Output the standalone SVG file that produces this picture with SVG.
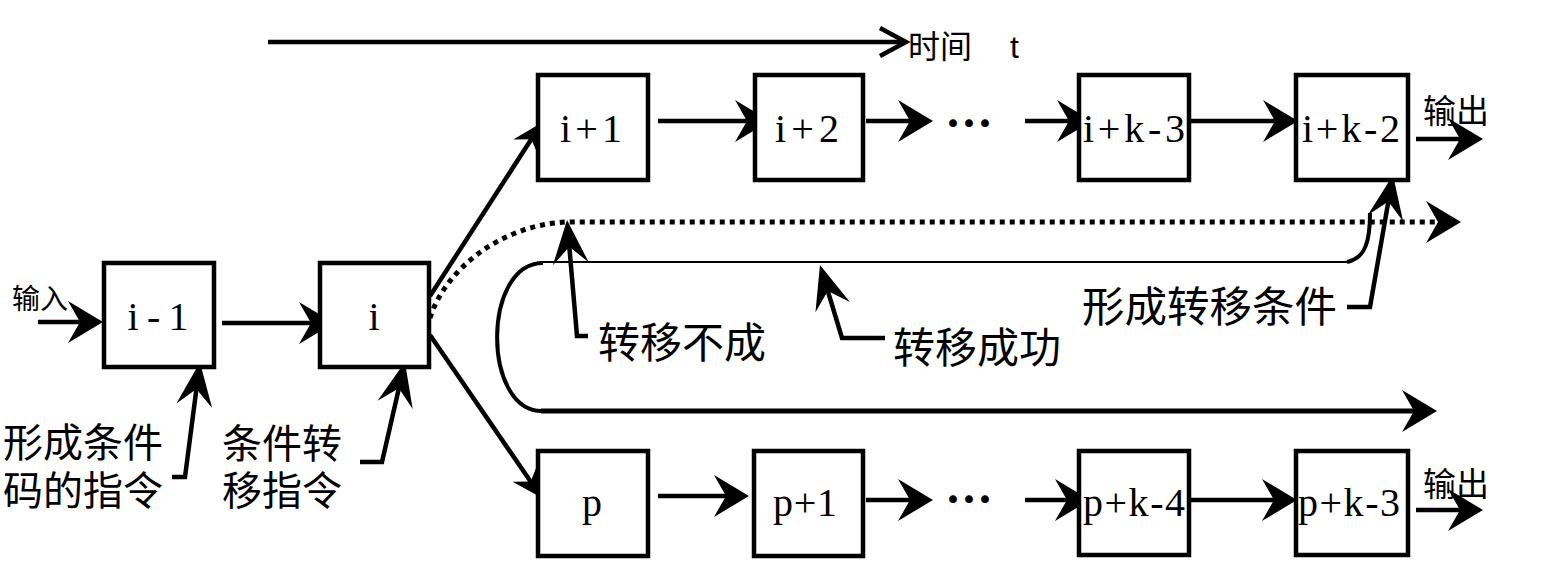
<svg xmlns="http://www.w3.org/2000/svg" width="1554" height="584" viewBox="0 0 1554 584">
<style>
.box{fill:#fff;stroke:#000;stroke-width:4.5}
.lbl{font-family:"Liberation Serif",serif;font-size:40px;fill:#000;text-anchor:middle}
.cn{font-family:"Noto Sans CJK SC",sans-serif;fill:#000}
.ln{fill:none;stroke:#000;stroke-width:4.5}
.thin{fill:none;stroke:#000;stroke-width:2}
.dot{fill:none;stroke:#000;stroke-width:5;stroke-dasharray:5 5}
.ell{font-family:"Noto Sans CJK SC",sans-serif;font-size:48px;font-weight:bold;fill:#000;text-anchor:middle}
</style>
<defs>
<marker id="ah" viewBox="-50 -25 55 50" markerWidth="55" markerHeight="50" refX="-15" refY="0" orient="auto" markerUnits="userSpaceOnUse">
<path d="M0,0 L-35,-21 L-23,0 L-35,21 Z" fill="#000"/>
</marker>
<marker id="ahs" viewBox="-50 -25 55 50" markerWidth="55" markerHeight="50" refX="-15" refY="0" orient="auto" markerUnits="userSpaceOnUse">
<path d="M0,0 L-30,-15 L-20,0 L-30,15 Z" fill="#000"/>
</marker>
<marker id="ahu" viewBox="-50 -25 55 50" markerWidth="55" markerHeight="50" refX="-15" refY="0" orient="auto" markerUnits="userSpaceOnUse">
<path d="M0,0 L-44,-18 L-27,0 L-44,18 Z" fill="#000"/>
</marker>
</defs>
<rect width="1554" height="584" fill="#fff"/>

<g id="connectors">
<line class="ln" x1="268" y1="42" x2="904" y2="42"/>
<polyline class="ln" points="880,28 906,42 880,56"/>
<line class="ln" x1="38" y1="322" x2="88" y2="322" marker-end="url(#ah)"/>
<line class="ln" x1="222" y1="323" x2="319" y2="323" marker-end="url(#ah)"/>
<line class="ln" x1="430" y1="296" x2="534" y2="135" marker-end="url(#ahs)"/>
<line class="ln" x1="430" y1="335" x2="533.5" y2="485.7" marker-end="url(#ahs)"/>
<line class="ln" x1="658" y1="121" x2="755" y2="121" marker-end="url(#ah)"/>
<line class="ln" x1="866" y1="121" x2="918" y2="121" marker-end="url(#ah)"/>
<line class="ln" x1="1025" y1="121" x2="1077" y2="121" marker-end="url(#ah)"/>
<line class="ln" x1="1190" y1="121" x2="1283" y2="121" marker-end="url(#ah)"/>
<line class="ln" x1="1416" y1="139" x2="1468" y2="139" marker-end="url(#ah)"/>
<line class="ln" x1="658" y1="496" x2="734" y2="496" marker-end="url(#ah)"/>
<line class="ln" x1="866" y1="500" x2="918" y2="500" marker-end="url(#ah)"/>
<line class="ln" x1="1025" y1="500" x2="1075" y2="500" marker-end="url(#ah)"/>
<line class="ln" x1="1190" y1="500" x2="1282" y2="500" marker-end="url(#ah)"/>
<line class="ln" x1="1416" y1="510" x2="1468" y2="510" marker-end="url(#ah)"/>
<path class="dot" d="M430,318 C445,270 500,225 567,222 L1446,222" marker-end="url(#ah)"/>
<path class="ln" d="M1370,213 C1370,240 1366,258 1347,262" style="stroke-width:4"/>
<line class="thin" x1="543" y1="262" x2="1347" y2="262"/>
<path class="ln" d="M543,263 C482,263 482,411 542,411" style="stroke-width:4"/>
<line class="ln" x1="541" y1="411" x2="1422" y2="411" style="stroke-width:5" marker-end="url(#ah)"/>
<polyline class="ln" points="172,477 185,477 198,377" marker-end="url(#ahu)"/>
<polyline class="ln" points="360,462 382,462 401.6,376.6" marker-end="url(#ahu)"/>
<polyline class="ln" points="588,336 577,336 568.3,234.9" marker-end="url(#ahu)"/>
<polyline class="ln" points="885,338 842,338 824.3,279.4" marker-end="url(#ahu)"/>
<polyline class="ln" points="1347,307 1370,307 1390.4,189.8" marker-end="url(#ahu)"/>
</g>

<g id="n-im1"><rect class="box" x="104" y="263" width="110" height="104"/><text class="lbl" x="158" y="330" textLength="61" lengthAdjust="spacing">i-1</text></g>
<g id="n-i"><rect class="box" x="320" y="263" width="109" height="104"/><text class="lbl" x="374" y="330">i</text></g>
<g id="n-ip1"><rect class="box" x="538" y="75" width="110" height="105"/><text class="lbl" x="591" y="142" textLength="62" lengthAdjust="spacing">i+1</text></g>
<g id="n-ip2"><rect class="box" x="755" y="75" width="108" height="105"/><text class="lbl" x="807" y="142" textLength="64" lengthAdjust="spacing">i+2</text></g>
<g id="n-ipk3"><rect class="box" x="1079" y="75" width="110" height="105"/><text class="lbl" x="1134" y="142" textLength="102" lengthAdjust="spacing">i+k-3</text></g>
<g id="n-ipk2"><rect class="box" x="1296" y="75" width="112" height="105"/><text class="lbl" x="1351" y="142" textLength="98" lengthAdjust="spacing">i+k-2</text></g>
<g id="n-p"><rect class="box" x="538" y="451" width="110" height="105"/><text class="lbl" x="592" y="516">p</text></g>
<g id="n-pp1"><rect class="box" x="754" y="451" width="109" height="105"/><text class="lbl" x="805" y="516" textLength="64" lengthAdjust="spacing">p+1</text></g>
<g id="n-ppk4"><rect class="box" x="1079" y="451" width="110" height="104"/><text class="lbl" x="1134" y="516" textLength="102" lengthAdjust="spacing">p+k-4</text></g>
<g id="n-ppk3"><rect class="box" x="1296" y="451" width="112" height="104"/><text class="lbl" x="1349" y="516" textLength="102" lengthAdjust="spacing">p+k-3</text></g>

<g id="labels">
<text class="cn" x="908" y="58" font-size="32">时间 <tspan x="1010" font-family="Liberation Sans,sans-serif">t</tspan></text>
<text class="cn" x="12" y="309" font-size="28">输入</text>
<text class="cn" x="163" y="457" font-size="40" text-anchor="end">形成条件</text>
<text class="cn" x="163" y="505" font-size="40" text-anchor="end">码的指令</text>
<text class="cn" x="222" y="458" font-size="40">条件转</text>
<text class="cn" x="222" y="505" font-size="40">移指令</text>
<text class="cn" x="598" y="358" font-size="42">转移不成</text>
<text class="cn" x="893" y="363" font-size="42">转移成功</text>
<text class="cn" x="1082" y="322" font-size="42.5">形成转移条件</text>
<text class="cn" x="1423" y="123" font-size="33">输出</text>
<text class="cn" x="1423" y="496" font-size="33">输出</text>
<text class="ell" x="969" y="141">…</text>
<text class="ell" x="969" y="517">…</text>
</g>
</svg>
